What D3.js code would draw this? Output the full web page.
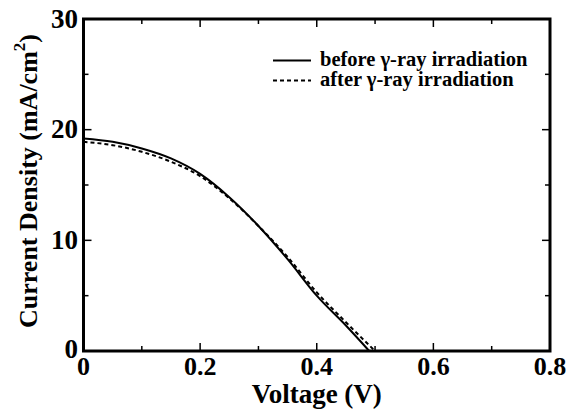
<!DOCTYPE html>
<html><head><meta charset="utf-8">
<script src="https://cdn.jsdelivr.net/npm/d3@7"></script>
<style>
html,body{margin:0;padding:0;background:#fff;}
svg text{font-family:"Liberation Serif","Times New Roman",Times,serif;font-weight:bold;fill:#000;}
</style></head>
<body>
<svg id="chart" width="572" height="414"></svg>
<script>
const voltageBefore = [0, 0.05, 0.1, 0.15, 0.2, 0.25, 0.3, 0.35, 0.4, 0.45, 0.49];
const currentBefore = [19.2, 18.9, 18.3, 17.4, 16.0, 13.9, 11.3, 8.3, 5.0, 2.3, 0];
const voltageAfter = [0, 0.05, 0.1, 0.15, 0.2, 0.25, 0.3, 0.35, 0.4, 0.45, 0.5];
const currentAfter = [18.9, 18.6, 18.0, 17.1, 15.8, 13.8, 11.3, 8.5, 5.3, 2.6, 0];
const xTicks = [0, 0.2, 0.4, 0.6, 0.8];
const xTickLabels = ["0", "0.2", "0.4", "0.6", "0.8"];
const xMinorTicks = [0.1, 0.3, 0.5, 0.7];
const yTicks = [0, 10, 20, 30];
const yTickLabels = ["0", "10", "20", "30"];
const yMinorTicks = [5, 15, 25];
const seriesNames = ["before \u03B3-ray irradiation", "after \u03B3-ray irradiation"];

const svg = d3.select("#chart");
const L = 83.5, R = 550, T = 19, B = 351;
const x = d3.scaleLinear().domain([0, 0.8]).range([L, R]);
const y = d3.scaleLinear().domain([0, 30]).range([B, T]);

const g = svg.append("g");
function ticks(vals, len) {
  vals.forEach(v => {
    g.append("line").attr("x1", x(v)).attr("x2", x(v)).attr("y1", B).attr("y2", B - len).attr("stroke", "#000").attr("stroke-width", 1.5);
    g.append("line").attr("x1", x(v)).attr("x2", x(v)).attr("y1", T).attr("y2", T + len).attr("stroke", "#000").attr("stroke-width", 1.5);
  });
}
function yticks(vals, len) {
  vals.forEach(v => {
    g.append("line").attr("y1", y(v)).attr("y2", y(v)).attr("x1", L).attr("x2", L + len).attr("stroke", "#000").attr("stroke-width", 1.5);
    g.append("line").attr("y1", y(v)).attr("y2", y(v)).attr("x1", R).attr("x2", R - len).attr("stroke", "#000").attr("stroke-width", 1.5);
  });
}
ticks(xTicks.slice(1, -1), 8);
ticks(xMinorTicks, 5);
yticks(yTicks.slice(1, -1), 8);
yticks(yMinorTicks, 5);

g.append("rect").attr("x", L).attr("y", T).attr("width", R - L).attr("height", B - T)
  .attr("fill", "none").attr("stroke", "#000").attr("stroke-width", 3);

xTicks.forEach((v, i) => {
  svg.append("text").attr("x", x(v)).attr("y", 375).attr("text-anchor", "middle")
    .attr("font-size", 26).text(xTickLabels[i]);
});
yTicks.forEach((v, i) => {
  svg.append("text").attr("x", 78).attr("y", y(v) + (v === 0 ? 7 : 8.5)).attr("text-anchor", "end")
    .attr("font-size", 27).text(yTickLabels[i]);
});

svg.append("text").attr("x", (L + R) / 2).attr("y", 403).attr("text-anchor", "middle")
  .attr("font-size", 27).text("Voltage (V)");
const yt = svg.append("text").attr("transform", "translate(37,181) rotate(-90)")
  .attr("text-anchor", "middle").attr("font-size", 26);
yt.append("tspan").text("Current Density (mA/cm");
yt.append("tspan").attr("font-size", 17).attr("dy", -12).text("2");
yt.append("tspan").attr("dy", 12).text(")");

const line = d3.line().x(d => x(d[0])).y(d => y(d[1])).curve(d3.curveMonotoneX);
const before = voltageBefore.map((v, i) => [v, currentBefore[i]]);
const after = voltageAfter.map((v, i) => [v, currentAfter[i]]);
svg.append("path").datum(after).attr("d", line).attr("fill", "none").attr("stroke", "#000")
  .attr("stroke-width", 2).attr("stroke-dasharray", "4,3");
svg.append("path").datum(before).attr("d", line).attr("fill", "none").attr("stroke", "#000")
  .attr("stroke-width", 2);

const legY = [60.5, 80.5];
svg.append("line").attr("x1", 273).attr("x2", 311).attr("y1", legY[0]).attr("y2", legY[0]).attr("stroke", "#000").attr("stroke-width", 2);
svg.append("line").attr("x1", 273).attr("x2", 311).attr("y1", legY[1]).attr("y2", legY[1]).attr("stroke", "#000").attr("stroke-width", 2).attr("stroke-dasharray", "4,3");
seriesNames.forEach((s, i) => {
  svg.append("text").attr("x", 320).attr("y", legY[i] + 5.5).attr("font-size", 20.5).text(s);
});
</script>
</body></html>
